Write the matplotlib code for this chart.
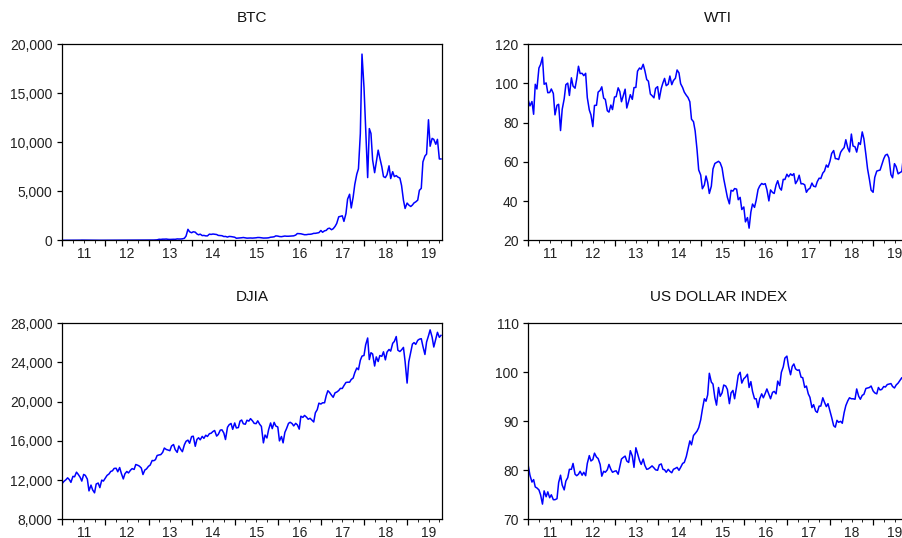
import numpy as np
import pandas as pd
import matplotlib
matplotlib.use("Agg")
import matplotlib.pyplot as plt
from matplotlib.ticker import FixedLocator, FuncFormatter, NullFormatter

plt.rcParams["font.family"] = ["Liberation Sans", "DejaVu Sans"]

# Semi-monthly observations (1st and 15th), Jan 2011 - Oct 2019
dates = pd.date_range("2011-01-01", periods=212, freq="SMS")

btc = [
    # 2011
    0.3, 0.4, 0.7, 1.0, 0.9, 0.9, 0.8, 1.1, 3.2, 7.5, 9.6, 19.0,
    16.1, 13.9, 13.1, 10.8, 8.2, 4.8, 5.1, 3.9, 3.3, 2.3, 3.0, 3.2,
    # 2012
    5.3, 6.8, 5.9, 4.4, 4.9, 5.3, 4.9, 4.9, 5.0, 5.0, 5.3, 6.5,
    6.7, 7.6, 9.3, 13.2, 10.2, 11.7, 12.4, 11.8, 10.6, 11.3, 12.6, 13.3,
    # 2013
    13.5, 14.3, 20.4, 27.0, 34.5, 47.0, 104, 90, 116, 115, 128, 100,
    88, 98, 105, 100, 140, 130, 132, 150, 205, 435, 1120, 870,
    # 2014
    770, 870, 830, 650, 560, 630, 480, 500, 450, 450, 630, 600,
    640, 620, 590, 500, 480, 470, 385, 395, 330, 395, 380, 350,
    # 2015
    315, 210, 225, 235, 260, 285, 245, 220, 235, 237, 225, 235,
    255, 285, 280, 260, 228, 230, 237, 255, 315, 330, 360, 450,
    # 2016
    430, 385, 370, 400, 435, 415, 415, 430, 450, 455, 535, 690,
    675, 665, 610, 570, 575, 610, 615, 640, 710, 710, 750, 780,
    # 2017
    1000, 820, 970, 1010, 1190, 1240, 1080, 1180, 1420, 1720, 2400, 2440,
    2500, 1930, 2720, 4200, 4700, 3300, 4400, 5700, 6750, 7300, 10900, 19000,
    # 2018
    15600, 11500, 6400, 11400, 10900, 8200, 6900, 8000, 9200, 8400, 7500, 6500,
    6400, 6700, 7600, 6300, 7000, 6500, 6600, 6450, 6350, 5600, 4100, 3250,
    # 2019
    3800, 3600, 3450, 3600, 3820, 3920, 4100, 5100, 5300, 8000, 8600, 8800,
    12300, 9600, 10400, 10300, 9800, 10300, 8300, 8300,
]

wti = [
    # 2011
    91.4, 88.6, 90.8, 84.3, 99.6, 97.2, 107.9, 109.7, 113.4, 99.6, 100.3, 95.3,
    95.4, 97.2, 94.9, 84.0, 88.9, 89.4, 76.0, 86.8, 92.2, 99.4, 100.2, 93.9,
    # 2012
    102.9, 98.7, 97.6, 102.3, 108.8, 105.1, 105.2, 104.0, 105.2, 92.8, 86.5, 84.0,
    78.0, 88.8, 88.9, 95.6, 96.5, 98.3, 92.5, 91.9, 86.1, 85.4, 89.0, 86.7,
    # 2013
    93.1, 93.3, 97.8, 95.9, 90.7, 93.5, 97.1, 87.5, 91.0, 94.3, 91.9, 97.9,
    98.0, 106.3, 107.9, 107.3, 109.8, 106.6, 102.0, 101.2, 94.6, 93.8, 92.7, 97.5,
    # 2014
    98.4, 92.0, 97.5, 100.3, 102.6, 98.9, 99.7, 103.8, 99.4, 101.5, 102.7, 106.9,
    105.4, 99.9, 97.9, 95.6, 94.0, 92.9, 90.7, 81.8, 80.5, 75.8, 66.2, 55.9,
    # 2015
    53.3, 46.3, 48.2, 52.8, 49.6, 43.9, 47.6, 56.4, 59.2, 59.7, 60.3, 59.5,
    56.9, 51.4, 46.2, 41.9, 38.6, 45.5, 45.1, 46.4, 46.1, 40.7, 41.9, 35.7,
    # 2016
    37.0, 29.4, 31.6, 26.2, 34.4, 38.5, 36.8, 40.4, 45.9, 47.7, 49.0, 48.5,
    48.9, 45.9, 40.1, 45.7, 44.4, 43.9, 48.2, 50.4, 46.7, 45.6, 51.1, 51.0,
    # 2017
    53.7, 52.4, 53.9, 53.1, 54.0, 48.9, 50.6, 53.2, 48.8, 48.9, 48.3, 44.5,
    46.0, 46.5, 49.2, 47.6, 47.3, 49.9, 51.7, 51.5, 54.3, 55.3, 58.4, 57.3,
    # 2018
    60.4, 64.3, 65.8, 61.7, 61.6, 61.2, 64.9, 66.2, 67.3, 71.3, 67.0, 65.1,
    74.2, 68.1, 67.7, 65.0, 69.8, 68.9, 75.3, 71.8, 63.7, 56.5, 51.0, 45.6,
    # 2019
    44.5, 52.1, 55.3, 55.6, 55.8, 58.5, 61.6, 63.4, 63.9, 62.0, 53.5, 51.9,
    59.1, 57.6, 53.9, 54.5, 55.1, 62.9, 53.6, 52.8,
]

djia = [
    # 2011
    11670, 11870, 12040, 12230, 12060, 11770, 12380, 12340, 12810, 12600, 12290, 11900,
    12580, 12480, 12100, 10900, 11490, 11000, 10700, 11600, 11700, 11230, 12000, 11900,
    # 2012
    12220, 12480, 12630, 12880, 12950, 13190, 13210, 12850, 13280, 12700, 12120, 12650,
    12880, 12730, 13010, 13170, 13090, 13590, 13520, 13430, 13230, 12570, 13030, 13140,
    # 2013
    13410, 13530, 14000, 13980, 14090, 14510, 14570, 14600, 14830, 15270, 15120, 15070,
    15000, 15480, 15630, 15110, 14830, 15480, 15130, 14900, 15610, 15960, 16080, 15760,
    # 2014
    16440, 16480, 15450, 16150, 16320, 16110, 16460, 16260, 16580, 16450, 16740, 16780,
    16960, 17060, 16490, 16660, 17100, 17130, 16800, 16140, 17390, 17650, 17780, 17180,
    # 2015
    17830, 17320, 17360, 18020, 18130, 17750, 17700, 18110, 18020, 18270, 18040, 17790,
    17760, 18050, 17690, 17480, 15800, 16600, 16300, 17140, 17830, 17250, 17890, 17520,
    # 2016
    17420, 16000, 16450, 15800, 16870, 17250, 17790, 17900, 17770, 17530, 17790, 17640,
    17200, 18520, 18400, 18600, 18420, 18210, 18310, 18140, 17930, 18870, 19190, 19850,
    # 2017
    19760, 19890, 19890, 20610, 21120, 20950, 20660, 20450, 20910, 20980, 21140, 21360,
    21350, 21640, 21960, 21990, 21990, 22270, 22410, 22960, 23440, 23270, 24230, 24650,
    # 2018
    24720, 25800, 26500, 24300, 25000, 24870, 23640, 24570, 24100, 24710, 24630, 25090,
    24270, 25060, 25330, 25160, 25960, 26150, 26650, 25250, 25120, 25290, 25540, 24100,
    # 2019
    21900, 24070, 25060, 25880, 26030, 25850, 26260, 26380, 26430, 25650, 24820, 26090,
    26720, 27330, 26580, 25580, 26400, 27080, 26570, 26770,
]

usdx = [
    # 2011
    80.9, 79.0, 77.6, 78.1, 76.6, 76.4, 76.0, 75.0, 73.1, 75.8, 74.6, 75.6,
    74.4, 75.0, 74.0, 74.0, 74.2, 77.5, 79.0, 77.0, 76.0, 77.8, 78.5, 80.2,
    # 2012
    80.2, 81.4, 79.2, 78.9, 79.2, 79.8, 79.0, 79.6, 78.9, 81.4, 83.0, 81.9,
    82.2, 83.5, 82.7, 82.4, 81.2, 78.8, 79.8, 79.6, 80.1, 81.2, 80.2, 79.6,
    # 2013
    79.8, 79.9, 79.2, 80.8, 82.3, 82.6, 82.9, 81.9, 81.6, 84.0, 82.9, 80.6,
    84.6, 83.4, 82.0, 81.2, 82.3, 81.0, 80.2, 80.3, 80.6, 80.9, 80.5, 80.1,
    # 2014
    80.0, 81.1, 81.3, 80.2, 80.1, 79.6, 80.2, 79.8, 79.5, 80.2, 80.4, 80.6,
    80.0, 80.6, 81.4, 81.6, 82.8, 84.3, 86.0, 85.2, 87.1, 87.5, 88.0, 88.7,
    # 2015
    90.3, 92.4, 94.6, 94.1, 95.4, 99.8, 98.0, 97.6, 94.8, 93.3, 96.9, 95.1,
    95.8, 97.4, 97.2, 96.5, 93.6, 95.8, 96.3, 94.6, 97.1, 99.4, 100.0, 97.8,
    # 2016
    98.7, 99.0, 99.6, 96.9, 98.1, 96.1, 94.6, 94.6, 92.8, 94.6, 95.6, 94.8,
    95.7, 96.6, 95.5, 94.6, 95.9, 96.1, 95.6, 98.2, 97.3, 100.0, 101.1, 102.9,
    # 2017
    103.3, 101.2, 99.5, 101.2, 101.7, 100.7, 100.4, 100.5, 99.0, 98.9, 96.9, 97.2,
    95.6, 94.9, 92.8, 93.4, 92.1, 91.8, 93.1, 93.1, 94.8, 93.9, 93.0, 93.6,
    # 2018
    92.1, 90.8, 89.1, 88.8, 90.2, 89.8, 90.0, 89.6, 91.8, 93.2, 94.2, 94.8,
    94.6, 94.6, 94.5, 96.6, 95.1, 94.5, 95.3, 95.5, 96.7, 96.8, 96.9, 97.2,
    # 2019
    96.2, 95.8, 95.6, 96.9, 96.4, 96.5, 97.1, 97.0, 97.5, 97.6, 97.7, 97.1,
    96.8, 97.4, 97.8, 98.3, 98.9, 98.3, 99.1, 98.3,
]

year_labels = ["11", "12", "13", "14", "15", "16", "17", "18", "19"]

# decimal-year position of each observation
t = dates.year + (dates.dayofyear - 1) / np.where(dates.is_leap_year, 366, 365)

W, H = 903, 538
fig = plt.figure(figsize=(W / 100, H / 100), dpi=100)
fig.patch.set_facecolor("white")

AX_W, AX_H = 379.7, 196.0
X_START, X_END = 2011.0, 2011.0 + AX_W / 43.1

thousands = FuncFormatter(lambda v, p: f"{v:,.0f}")
plain = FuncFormatter(lambda v, p: f"{v:.0f}")

panels = [
    ("BTC", btc, (62.3, 44.3), (0, 20000), [0, 5000, 10000, 15000, 20000], thousands),
    ("WTI", wti, (528.3, 44.3), (20, 120), [20, 40, 60, 80, 100, 120], plain),
    ("DJIA", djia, (62.3, 323.3), (8000, 28000), [8000, 12000, 16000, 20000, 24000, 28000], thousands),
    ("US DOLLAR INDEX", usdx, (528.3, 323.3), (70, 110), [70, 80, 90, 100, 110], plain),
]

for title, values, (px, py), ylim, yticks, fmt in panels:
    ax = fig.add_axes([px / W, 1 - (py + AX_H) / H, AX_W / W, AX_H / H])
    ax.plot(t, values, color="#0000FF", linewidth=1.1)
    ax.set_xlim(X_START, X_END)
    ax.set_ylim(*ylim)

    for s in ax.spines.values():
        s.set_linewidth(0.9)
        s.set_color("black")

    # year boundaries (major) and quarters (minor), unlabeled
    years = np.arange(2011, 2020)
    ax.xaxis.set_major_locator(FixedLocator(years))
    ax.xaxis.set_minor_locator(FixedLocator(np.arange(2011, 2019.9, 0.25)))
    ax.xaxis.set_major_formatter(NullFormatter())
    ax.tick_params(axis="x", which="major", direction="out", length=4, width=0.9)
    ax.tick_params(axis="x", which="minor", direction="out", length=2, width=0.6)

    # year labels centred within each year
    sec = ax.secondary_xaxis("bottom")
    sec.set_xticks(years + 0.5, year_labels)
    sec.tick_params(length=0, pad=4.5, labelsize=10, labelcolor="#222222")
    sec.spines["bottom"].set_visible(False)

    ax.yaxis.set_major_locator(FixedLocator(yticks))
    ax.yaxis.set_major_formatter(fmt)
    ax.tick_params(axis="y", direction="out", length=3.5, width=0.9, pad=3.5,
                   labelsize=10, labelcolor="#222222")

    ax.set_title(title, fontsize=11, pad=16, color="#111111")

fig.savefig("out.png", dpi=100)
